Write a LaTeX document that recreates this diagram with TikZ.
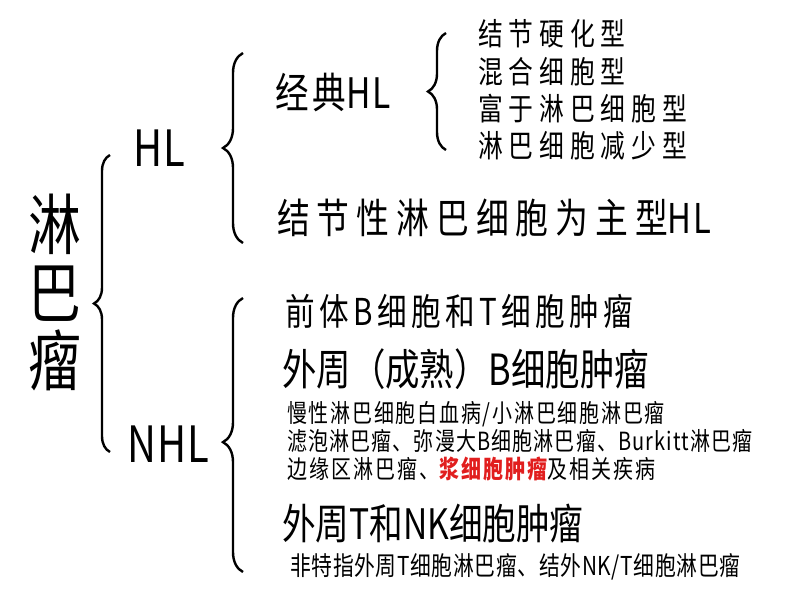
\documentclass[tikz,border=0pt]{standalone}
\usepackage{fontspec}
\usetikzlibrary{decorations.pathreplacing}
\newfontfamily\cjk[FakeStretch=0.8]{Noto Sans CJK SC}
\newcommand{\fz}[2]{\fontsize{#1}{#1}\selectfont\cjk\addfontfeature{LetterSpace=#2}}
\newcommand{\tightls}[1]{{\addfontfeature{LetterSpace=3}#1}}
\definecolor{hired}{RGB}{225,30,30}
\tikzset{
  lbl/.style={inner sep=0pt, anchor=west, text=black},
  brc/.style={draw=black, line width=2.4pt, decorate, decoration={brace, amplitude=#1}},
}
\begin{document}
\begin{tikzpicture}[x=1pt,y=-1pt]
\useasboundingbox (0,0) rectangle (800,600);
% root
\node[inner sep=0pt, align=center, font=\fontsize{66}{68}\selectfont\cjk] (root) at (55,292) {淋\\巴\\瘤};
% level 1
\node[lbl, font=\fz{50}{2}] (hl) at (133,148) {HL};
\node[lbl, font=\fz{50}{2}] (nhl) at (127,444) {NHL};
% level 2 (HL)
\node[lbl, font=\fz{42}{10}] (cl) at (275,92) {经典\tightls{HL}};
\node[lbl, font=\fz{41}{17}] (np) at (277,218) {结节性淋巴细胞为主型\tightls{HL}};
% level 3 list
\node[lbl, font=\fz{31}{19}] (c1) at (478,33.5) {结节硬化型};
\node[lbl, font=\fz{31}{19}] (c2) at (478,71.5) {混合细胞型};
\node[lbl, font=\fz{31}{19}] (c3) at (478,108.5) {富于淋巴细胞型};
\node[lbl, font=\fz{31}{19}] (c4) at (478,146) {淋巴细胞减少型};
% NHL items
\node[lbl, font=\fz{37}{12}] (n1) at (285,311) {前体B细胞和T细胞肿瘤};
\node[lbl, font=\fz{43}{0}] (n2) at (282,369) {外周（成熟）B细胞肿瘤};
\node[lbl, font=\fz{25}{7}] (s1) at (287,414) {慢性淋巴细胞白血病/小淋巴细胞淋巴瘤};
\node[lbl, font=\fz{25}{4.5}] (s2) at (287,441) {滤泡淋巴瘤、弥漫大B细胞淋巴瘤、Burkitt淋巴瘤};
\node[lbl, font=\fz{25}{8}] (s3) at (287,468.5) {边缘区淋巴瘤、{\color{hired}\bfseries 浆细胞肿瘤}及相关疾病};
\node[lbl, font=\fz{42}{0}] (n3) at (282,523.5) {外周T和NK细胞肿瘤};
\node[lbl, font=\fz{26}{2.5}] (s4) at (290,566.5) {非特指外周T细胞淋巴瘤、结外NK/T细胞淋巴瘤};
% braces
\coordinate (b1s) at (110,452); \coordinate (b1e) at (110,155);
\coordinate (b2s) at (243,243); \coordinate (b2e) at (243,53);
\coordinate (b3s) at (243,572); \coordinate (b3e) at (243,298);
\coordinate (b4s) at (446,150); \coordinate (b4e) at (446,33);
\draw[brc=16pt] (b1s) -- (b1e);
\draw[brc=20pt] (b2s) -- (b2e);
\draw[brc=20pt, decoration={aspect=0.474}] (b3s) -- (b3e);
\draw[brc=18pt] (b4s) -- (b4e);
\end{tikzpicture}
\end{document}
